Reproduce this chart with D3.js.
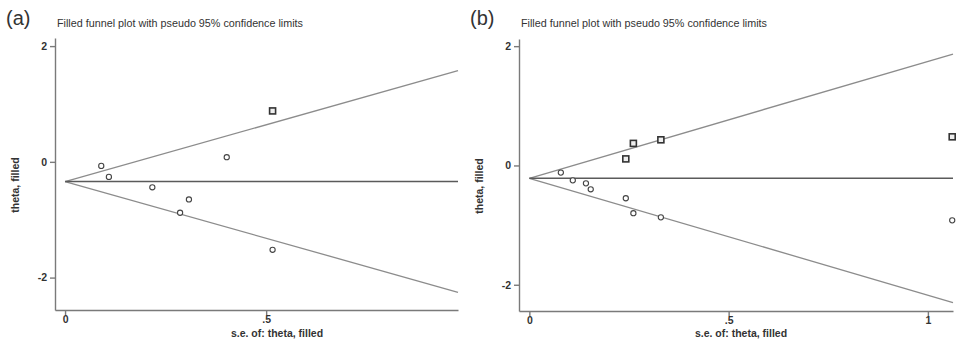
<!DOCTYPE html>
<html lang="en">
<head>
  <meta charset="UTF-8">
  <title>Filled funnel plots</title>
  <script src='https://d3js.org/d3.v7.min.js'></script>
  <style>
    body { margin: 0; background: #fff; }
    text { font-family: 'Liberation Sans', Arial, sans-serif; fill: #333; }
  </style>
</head>
<body>
</body>
<script>
  const width = 960, height = 342;

  // panel (a): observed studies (circles) and filled studies (squares)
  const seA = [0.09, 0.109, 0.217, 0.286, 0.308, 0.402, 0.516];
  const thetaA = [-0.07, -0.26, -0.44, -0.88, -0.65, 0.08, -1.52];
  const seFilledA = [0.516];
  const thetaFilledA = [0.88];
  const centerA = -0.34;
  const seMaxA = 0.977;

  // panel (b)
  const seB = [0.079, 0.109, 0.142, 0.154, 0.242, 0.261, 0.33, 1.061];
  const thetaB = [-0.12, -0.25, -0.30, -0.40, -0.55, -0.80, -0.87, -0.92];
  const seFilledB = [0.242, 0.261, 0.33, 1.061];
  const thetaFilledB = [0.11, 0.37, 0.43, 0.48];
  const centerB = -0.215;
  const seMaxB = 1.063;

  const yTicks = [-2, 0, 2];
  const xTicksA = [0, 0.5];
  const xTicksB = [0, 0.5, 1];
  const title = 'Filled funnel plot with pseudo 95% confidence limits';
  const z = 1.96;

  const svg = d3.select('body').append('svg').attr('width', width).attr('height', height);

  function fmt(v) {
    return v === 0.5 ? '.5' : String(v);
  }

  function panel(cfg) {
    const g = svg.append('g');
    const x = d3.scaleLinear().domain(cfg.xDomain).range([cfg.left, cfg.right]);
    const y = d3.scaleLinear().domain(cfg.yDomain).range([cfg.bottom, cfg.top]);

    // axes
    const yAxis = g.append('g').attr('transform', `translate(${cfg.left},0)`)
      .call(d3.axisLeft(y).tickValues(yTicks).tickFormat(fmt).tickSize(5).tickSizeOuter(0).tickPadding(3));
    const xAxis = g.append('g').attr('transform', `translate(0,${cfg.bottom})`)
      .call(d3.axisBottom(x).tickValues(cfg.xTicks).tickFormat(fmt).tickSize(5).tickSizeOuter(0).tickPadding(1));
    [yAxis, xAxis].forEach(a => {
      a.selectAll('path, line').attr('stroke', '#7a7a7a').attr('stroke-width', 1.4);
      a.selectAll('text').attr('font-size', 10.5).attr('font-weight', 'bold').attr('fill', '#333')
        .style('font-family', "'Liberation Sans', Arial, sans-serif");
    });

    // funnel lines
    const lines = [
      {y1: cfg.center, y2: cfg.center + z * cfg.seMax, c: '#8c8c8c', w: 1.3},
      {y1: cfg.center, y2: cfg.center - z * cfg.seMax, c: '#8c8c8c', w: 1.3},
      {y1: cfg.center, y2: cfg.center, c: '#5a5a5a', w: 1.5}
    ];
    g.selectAll('line.funnel').data(lines).join('line')
      .attr('class', 'funnel')
      .attr('x1', x(0)).attr('x2', x(cfg.seMax))
      .attr('y1', d => y(d.y1)).attr('y2', d => y(d.y2))
      .attr('stroke', d => d.c).attr('stroke-width', d => d.w);

    // observed studies
    g.selectAll('circle.obs').data(d3.zip(cfg.se, cfg.theta)).join('circle')
      .attr('class', 'obs')
      .attr('cx', d => x(d[0])).attr('cy', d => y(d[1])).attr('r', 2.6)
      .attr('fill', 'white').attr('stroke', '#444').attr('stroke-width', 1.1);

    // filled studies
    g.selectAll('rect.fill').data(d3.zip(cfg.seFilled, cfg.thetaFilled)).join('rect')
      .attr('class', 'fill')
      .attr('x', d => x(d[0]) - 3).attr('y', d => y(d[1]) - 3)
      .attr('width', 6).attr('height', 6)
      .attr('fill', '#eee').attr('stroke', '#333').attr('stroke-width', 1.6);

    // labels
    g.append('text').attr('x', cfg.tagX).attr('y', 25).attr('font-size', 20).attr('fill', '#222').text(cfg.tag);
    g.append('text').attr('x', cfg.left + 2).attr('y', 27).attr('font-size', 10).attr('fill', '#222')
      .attr('textLength', 246).attr('lengthAdjust', 'spacingAndGlyphs').text(title);
    g.append('text').attr('transform', `translate(${cfg.left - 36},${(cfg.top + cfg.bottom) / 2 + 11}) rotate(-90)`)
      .attr('text-anchor', 'middle').attr('font-size', 10.5).attr('font-weight', 'bold').text('theta, filled');
    g.append('text').attr('x', cfg.xLabelX).attr('y', 337).attr('text-anchor', 'middle')
      .attr('font-size', 10.5).attr('font-weight', 'bold').text('s.e. of: theta, filled');
  }

  panel({
    tag: '(a)', tagX: 6, left: 55, right: 458, top: 38, bottom: 310,
    xDomain: [-0.025, 0.977], yDomain: [-2.56, 2.14], xTicks: xTicksA,
    se: seA, theta: thetaA, seFilled: seFilledA, thetaFilled: thetaFilledA,
    center: centerA, seMax: seMaxA, xLabelX: 277
  });

  panel({
    tag: '(b)', tagX: 470, left: 519, right: 953, top: 39, bottom: 311,
    xDomain: [-0.026, 1.063], yDomain: [-2.44, 2.12], xTicks: xTicksB,
    se: seB, theta: thetaB, seFilled: seFilledB, thetaFilled: thetaFilledB,
    center: centerB, seMax: seMaxB, xLabelX: 741
  });
</script>
</html>
